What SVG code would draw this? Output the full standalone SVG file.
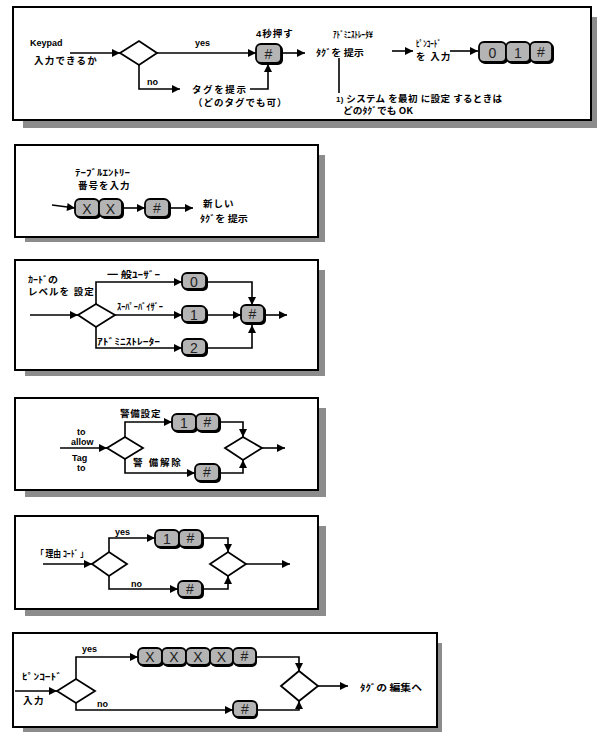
<svg xmlns="http://www.w3.org/2000/svg" width="597" height="732" viewBox="0 0 597 732">
<style>
.frame{fill:#fff;stroke:#000;stroke-width:2}
.shadow{fill:#8c8c8c}
.c{fill:none;stroke:#000;stroke-width:1.6}
.dia{fill:#fff;stroke:#000;stroke-width:1.8}
.kb{fill:#000}
.kf{fill:#b4b4b4;stroke:#000;stroke-width:1.8}
.kt{font-family:"Liberation Sans",Arial,sans-serif;font-size:14px;fill:#222;text-anchor:middle}
.en{font-family:"Liberation Sans",Arial,sans-serif;font-size:9px;font-weight:bold;fill:#000}
.jp{font-family:"Liberation Sans","Noto Sans CJK JP",sans-serif;font-size:9.5px;font-weight:bold;fill:#000}
.hw{font-family:"Noto Sans CJK JP",sans-serif;font-size:9px;font-weight:bold;fill:#000}
</style>
<defs>
<marker id="ah" viewBox="0 0 10 10" refX="10" refY="5" markerWidth="9" markerHeight="8" markerUnits="userSpaceOnUse" orient="auto"><path d="M0,0 L10,5 L0,10 z" fill="#000"/></marker>
</defs>

<g id="frames">
<rect class="shadow" x="23" y="17" width="574" height="111"/>
<rect class="frame" x="13" y="7" width="578" height="113"/>
<rect class="shadow" x="25" y="155" width="300" height="87"/>
<rect class="frame" x="15" y="145" width="303" height="92"/>
<rect class="shadow" x="25" y="270" width="300" height="106"/>
<rect class="frame" x="15" y="260" width="303" height="110"/>
<rect class="shadow" x="25" y="408" width="301" height="89"/>
<rect class="frame" x="15" y="398" width="303" height="92"/>
<rect class="shadow" x="25" y="526" width="301" height="90"/>
<rect class="frame" x="15" y="516" width="303" height="93"/>
<rect class="shadow" x="23" y="643" width="419" height="89"/>
<rect class="frame" x="13" y="633" width="424" height="94"/>
</g>

<g id="connectors">
<path class="c" d="M70,53 H120" marker-end="url(#ah)"/>
<path class="c" d="M157,53 H256" marker-end="url(#ah)"/>
<path class="c" d="M282,53 H305" marker-end="url(#ah)"/>
<path class="c" d="M139,65 V89 H180" marker-end="url(#ah)"/>
<path class="c" d="M250,89 H268 V64" marker-end="url(#ah)"/>
<path class="c" d="M339,58 V93"/>
<path class="c" d="M392,51 H413" marker-end="url(#ah)"/>
<path class="c" d="M450,51 H478" marker-end="url(#ah)"/>
<path class="c" d="M52,205 L75,208" marker-end="url(#ah)"/>
<path class="c" d="M123,208 H145" marker-end="url(#ah)"/>
<path class="c" d="M170,208 H193" marker-end="url(#ah)"/>
<path class="c" d="M30,315 H78" marker-end="url(#ah)"/>
<path class="c" d="M96,304 V282 H182" marker-end="url(#ah)"/>
<path class="c" d="M115,315 H182" marker-end="url(#ah)"/>
<path class="c" d="M96,327 V348 H182" marker-end="url(#ah)"/>
<path class="c" d="M207,315 H241" marker-end="url(#ah)"/>
<path class="c" d="M207,282 H252 V305" marker-end="url(#ah)"/>
<path class="c" d="M207,348 H252 V325" marker-end="url(#ah)"/>
<path class="c" d="M265,315 H287" marker-end="url(#ah)"/>
<path class="c" d="M60,448 H107" marker-end="url(#ah)"/>
<path class="c" d="M125,437 V422 H172" marker-end="url(#ah)"/>
<path class="c" d="M220,422 H243 V437" marker-end="url(#ah)"/>
<path class="c" d="M125,459 V473 H195" marker-end="url(#ah)"/>
<path class="c" d="M220,473 H243 V460" marker-end="url(#ah)"/>
<path class="c" d="M262,448 H285" marker-end="url(#ah)"/>
<path class="c" d="M43,564 H92" marker-end="url(#ah)"/>
<path class="c" d="M109,552 V538 H155" marker-end="url(#ah)"/>
<path class="c" d="M203,538 H228 V552" marker-end="url(#ah)"/>
<path class="c" d="M109,576 V589 H178" marker-end="url(#ah)"/>
<path class="c" d="M203,589 H228 V576" marker-end="url(#ah)"/>
<path class="c" d="M246,564 H290" marker-end="url(#ah)"/>
<path class="c" d="M15,691 H57" marker-end="url(#ah)"/>
<path class="c" d="M76,679 V657 H138" marker-end="url(#ah)"/>
<path class="c" d="M256,657 H299 V671" marker-end="url(#ah)"/>
<path class="c" d="M76,703 V710 H233" marker-end="url(#ah)"/>
<path class="c" d="M257,710 H299 V701" marker-end="url(#ah)"/>
<path class="c" d="M318,686 H348" marker-end="url(#ah)"/>
</g>

<g id="p1-start"><text class="en" x="30" y="46">Keypad</text><text class="jp" x="34" y="64" letter-spacing="1.2">入力できるか</text></g>
<g id="p1-dia"><polygon class="dia" points="120,53 139,41 157,53 139,65"/></g>
<g id="p1-yes"><text class="en" x="195" y="46">yes</text></g>
<g id="p1-no"><text class="en" x="147" y="85">no</text></g>
<g id="p1-key"><text class="jp" x="256" y="37" letter-spacing="1">4秒押す</text>
<rect class="kb" x="257" y="45" width="26" height="20" rx="5"/><rect class="kf" x="256" y="44" width="25" height="19" rx="5"/><text class="kt" x="268.5" y="59">#</text></g>
<g id="p1-tag"><text class="jp" x="192" y="93" letter-spacing="1.6">タグを提示</text><text class="jp" x="193" y="106" letter-spacing="1">（どのタグでも可）</text></g>
<g id="p1-admin"><text class="hw" x="333" y="38" font-size="8" textLength="40" lengthAdjust="spacingAndGlyphs">ｱﾄﾞﾐﾆｽﾄﾚｰﾀ¥</text>
<text class="hw" x="316" y="56" textLength="48" lengthAdjust="spacingAndGlyphs">ﾀｸﾞを 提示</text></g>
<g id="p1-note"><text class="jp" x="336" y="102" textLength="166" lengthAdjust="spacing"><tspan font-size="8">1) </tspan>システム を最初 に設定 するときは</text>
<text class="hw" x="343" y="114" textLength="70" lengthAdjust="spacingAndGlyphs">どのﾀｸﾞでも OK</text></g>
<g id="p1-pin"><text class="hw" x="416" y="47" textLength="25" lengthAdjust="spacingAndGlyphs">ﾋﾟﾝｺｰﾄﾞ</text><text class="jp" x="416" y="60" letter-spacing="1">を 入力</text></g>
<g id="p1-keys">
<rect class="kb" x="480" y="43" width="28" height="21" rx="5"/><rect class="kf" x="479" y="42" width="27" height="20" rx="5"/><text class="kt" x="492.5" y="58" font-size="16">0</text>
<rect class="kb" x="507" y="43" width="25" height="21" rx="5"/><rect class="kf" x="506" y="42" width="24" height="20" rx="5"/><text class="kt" x="518" y="58" font-size="16">1</text>
<rect class="kb" x="531" y="43" width="23" height="21" rx="5"/><rect class="kf" x="530" y="42" width="22" height="20" rx="5"/><text class="kt" x="541" y="57" font-size="14">#</text>
</g>

<g id="p2-label"><text class="hw" x="75" y="176" textLength="55" lengthAdjust="spacingAndGlyphs">ﾃｰﾌﾞﾙｴﾝﾄﾘｰ</text><text class="jp" x="78" y="189" letter-spacing="1">番号を入力</text></g>
<g id="p2-keys">
<rect class="kb" x="76" y="200" width="25" height="19" rx="5"/><rect class="kf" x="75" y="199" width="24" height="18" rx="5"/><text class="kt" x="87" y="214" font-size="15">X</text>
<rect class="kb" x="100" y="200" width="24" height="19" rx="5"/><rect class="kf" x="99" y="199" width="23" height="18" rx="5"/><text class="kt" x="110.5" y="214" font-size="15">X</text>
</g>
<g id="p2-hash"><rect class="kb" x="146" y="200" width="25" height="19" rx="5"/><rect class="kf" x="145" y="199" width="24" height="18" rx="5"/><text class="kt" x="157" y="213">#</text></g>
<g id="p2-new"><text class="jp" x="203" y="207" letter-spacing="1">新しい</text><text class="hw" x="200" y="222" textLength="48" lengthAdjust="spacingAndGlyphs">ﾀｸﾞを 提示</text></g>

<g id="p3-label"><text class="hw" x="28" y="283" textLength="30" lengthAdjust="spacingAndGlyphs">ｶｰﾄﾞの</text><text class="jp" x="28" y="295" letter-spacing="1">レベルを 設定</text></g>
<g id="p3-dia"><polygon class="dia" points="78,315 96,304 115,315 96,327"/></g>
<g id="p3-l0"><text class="hw" x="107" y="278" textLength="53" lengthAdjust="spacingAndGlyphs">一 般ﾕｰｻﾞｰ</text></g>
<g id="p3-l1"><text class="hw" x="117" y="310" textLength="46" lengthAdjust="spacingAndGlyphs">ｽｰﾊﾟｰﾊﾞｲｻﾞｰ</text></g>
<g id="p3-l2"><text class="hw" x="97" y="345" textLength="63" lengthAdjust="spacingAndGlyphs">ｱﾄﾞﾐﾆｽﾄﾚｰﾀｰ</text></g>
<g id="p3-k0"><rect class="kb" x="183" y="274" width="25" height="17" rx="5"/><rect class="kf" x="182" y="273" width="24" height="16" rx="5"/><text class="kt" x="194" y="287" font-size="15">0</text></g>
<g id="p3-k1"><rect class="kb" x="183" y="307" width="25" height="17" rx="5"/><rect class="kf" x="182" y="306" width="24" height="16" rx="5"/><text class="kt" x="194" y="320" font-size="15">1</text></g>
<g id="p3-k2"><rect class="kb" x="183" y="340" width="25" height="17" rx="5"/><rect class="kf" x="182" y="339" width="24" height="16" rx="5"/><text class="kt" x="194" y="353" font-size="15">2</text></g>
<g id="p3-hash"><rect class="kb" x="242" y="306" width="24" height="19" rx="5"/><rect class="kf" x="241" y="305" width="23" height="18" rx="5"/><text class="kt" x="252.5" y="319">#</text></g>

<g id="p4-label"><text class="en" x="77" y="435">to</text><text class="en" x="71" y="445">allow</text><text class="en" x="72" y="461">Tag</text><text class="en" x="77" y="471">to</text></g>
<g id="p4-dia1"><polygon class="dia" points="107,448 125,437 143,448 125,459"/></g>
<g id="p4-set"><text class="jp" x="120" y="417" letter-spacing="0.8">警備設定</text></g>
<g id="p4-keys1">
<rect class="kb" x="173" y="415" width="25" height="18" rx="5"/><rect class="kf" x="172" y="414" width="24" height="17" rx="5"/><text class="kt" x="184" y="428">1</text>
<rect class="kb" x="197" y="415" width="24" height="18" rx="5"/><rect class="kf" x="196" y="414" width="23" height="17" rx="5"/><text class="kt" x="207.5" y="427" font-size="13">#</text>
</g>
<g id="p4-unset"><text class="jp" x="133" y="466" letter-spacing="1.8">警 備解除</text></g>
<g id="p4-hash"><rect class="kb" x="196" y="465" width="25" height="18" rx="5"/><rect class="kf" x="195" y="464" width="24" height="17" rx="5"/><text class="kt" x="207" y="477" font-size="13">#</text></g>
<g id="p4-dia2"><polygon class="dia" points="225,448 243,437 262,448 243,460"/></g>

<g id="p5-label"><text class="hw" x="36" y="557" textLength="52" lengthAdjust="spacingAndGlyphs">「 理由 ｺｰﾄﾞ 」</text></g>
<g id="p5-dia1"><polygon class="dia" points="92,564 109,552 127,564 109,576"/></g>
<g id="p5-yes"><text class="en" x="115" y="535">yes</text></g>
<g id="p5-keys1">
<rect class="kb" x="156" y="531" width="25" height="18" rx="5"/><rect class="kf" x="155" y="530" width="24" height="17" rx="5"/><text class="kt" x="167" y="544">1</text>
<rect class="kb" x="180" y="531" width="24" height="18" rx="5"/><rect class="kf" x="179" y="530" width="23" height="17" rx="5"/><text class="kt" x="190.5" y="543" font-size="13">#</text>
</g>
<g id="p5-no"><text class="en" x="131" y="587">no</text></g>
<g id="p5-hash"><rect class="kb" x="179" y="582" width="25" height="17" rx="5"/><rect class="kf" x="178" y="581" width="24" height="16" rx="5"/><text class="kt" x="190" y="594" font-size="13">#</text></g>
<g id="p5-dia2"><polygon class="dia" points="210,564 228,552 246,564 228,576"/></g>

<g id="p6-label"><text class="hw" x="22" y="680" textLength="40" lengthAdjust="spacingAndGlyphs">ﾋﾟﾝｺｰﾄﾞ</text><text class="jp" x="23" y="704" letter-spacing="1.5">入力</text></g>
<g id="p6-dia1"><polygon class="dia" points="57,691 76,679 95,691 76,703"/></g>
<g id="p6-yes"><text class="en" x="82" y="652">yes</text></g>
<g id="p6-keys">
<rect class="kb" x="139" y="649" width="25" height="18" rx="5"/><rect class="kf" x="138" y="648" width="24" height="17" rx="5"/><text class="kt" x="150" y="662">X</text>
<rect class="kb" x="163" y="649" width="24" height="18" rx="5"/><rect class="kf" x="162" y="648" width="24" height="17" rx="5"/><text class="kt" x="174" y="662">X</text>
<rect class="kb" x="187" y="649" width="24" height="18" rx="5"/><rect class="kf" x="186" y="648" width="24" height="17" rx="5"/><text class="kt" x="198" y="662">X</text>
<rect class="kb" x="211" y="649" width="23" height="18" rx="5"/><rect class="kf" x="210" y="648" width="23" height="17" rx="5"/><text class="kt" x="221.5" y="662">X</text>
<rect class="kb" x="234" y="649" width="23" height="18" rx="5"/><rect class="kf" x="233" y="648" width="23" height="17" rx="5"/><text class="kt" x="244.5" y="661" font-size="13">#</text>
</g>
<g id="p6-no"><text class="en" x="97" y="707">no</text></g>
<g id="p6-hash"><rect class="kb" x="234" y="702" width="24" height="17" rx="5"/><rect class="kf" x="233" y="701" width="24" height="16" rx="5"/><text class="kt" x="245" y="714" font-size="13">#</text></g>
<g id="p6-dia2"><polygon class="dia" points="281,686 299,671 318,686 299,701"/></g>
<g id="p6-end"><text class="hw" x="360" y="691" textLength="62" lengthAdjust="spacingAndGlyphs">ﾀｸﾞの 編集へ</text></g>
</svg>
